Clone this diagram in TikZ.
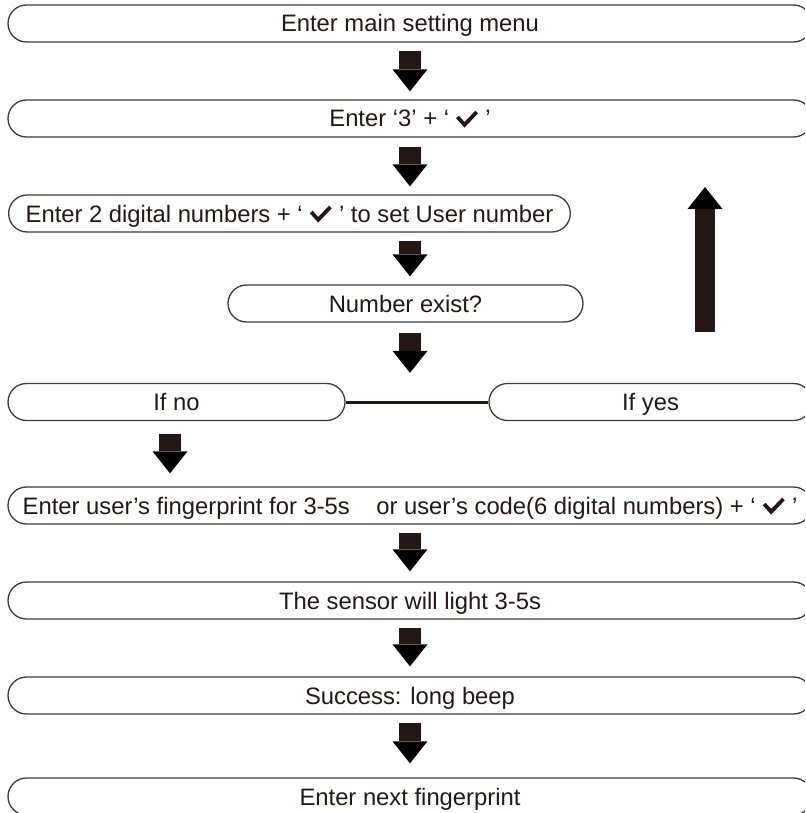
\documentclass[tikz,border=0pt]{standalone}
\usepackage{fontspec}
\setmainfont{Liberation Sans}
\usetikzlibrary{arrows.meta,calc}
\definecolor{ink}{HTML}{231815}
\definecolor{edge}{HTML}{3E3A39}
% heavy check mark used inside the quotes, drawn as a small stroked path
\newcommand{\tick}{%
  \begin{pgfpicture}%
    \pgfsetcornersarced{\pgfpointorigin}%
    \pgfpathrectangle{\pgfpointorigin}{\pgfpoint{23pt}{17pt}}%
    \pgfusepath{use as bounding box}%
    \pgfsetlinewidth{3.8pt}%
    \pgfsetstrokecolor{ink}%
    \pgfsetmiterjoin
    \pgfsetbuttcap
    \pgfpathmoveto{\pgfpoint{1.8pt}{10pt}}%
    \pgfpathlineto{\pgfpoint{8.8pt}{2.2pt}}%
    \pgfpathlineto{\pgfpoint{21pt}{15pt}}%
    \pgfusepath{stroke}%
  \end{pgfpicture}}

\begin{document}
\begin{tikzpicture}[x=1pt,y=-1pt,
  font=\fontsize{23.8}{28}\selectfont,
  stage/.style={draw=edge, line width=1.3pt, rounded corners=18.5pt,
    minimum height=37pt, inner sep=0pt, text=ink,
    text height=17pt, text depth=0pt},
  flow/.style={draw=ink, line width=22pt,
    -{Triangle[length=22pt,width=35pt,line width=0pt]}},
  link/.style={draw=ink, line width=3pt},
]
\clip (0,0) rectangle (805,813);
\coordinate (axis) at (410,0);

% process stages
\node[stage, minimum width=804pt] (b1) at (410,23.5) {Enter main setting menu};
\node[stage, minimum width=804pt] (b2) at (410,118.5) {Enter ‘3’ + ‘ \tick\ ’};
\node[stage, anchor=west, inner xsep=17pt] (b3) at (8,213.5)
  {Enter 2 digital numbers + ‘ \tick\ ’ to set User number};
\node[stage, minimum width=355pt] (b4) at (405.5,303.5) {Number exist?};
\node[stage, minimum width=337pt] (b5) at (176.5,402) {If no};
\node[stage, minimum width=323pt] (b6) at (650.5,402) {If yes};
\node[stage, minimum width=804pt] (b7) at (410,505.5)
  {Enter user’s fingerprint for 3-5s\ \ \ \ or user’s code(6 digital numbers) + ‘ \tick\ ’};
\node[stage, minimum width=804pt] (b8) at (410,600.5) {The sensor will light 3-5s};
\node[stage, minimum width=804pt] (b9) at (410,695.5) {Success: long beep};
\node[stage, minimum width=804pt] (b10) at (410,796.5) {Enter next fingerprint};

% arrows between stages
\draw[flow] ([yshift=-8pt]b1.south -| axis) -- ([yshift=8pt]b2.north -| axis);
\draw[flow] ([yshift=-9pt]b2.south -| axis) -- ([yshift=8pt]b3.north -| axis);
\draw[flow] ([yshift=-8pt]b3.south -| axis) -- ([yshift=8pt]b4.north -| axis);
\draw[flow] ([yshift=-10pt]b4.south -| axis) -- ([yshift=10pt]b5.north -| axis);
\draw[flow] ([xshift=-6.5pt,yshift=-13pt]b5.south) -- ([xshift=-6.5pt,yshift=13pt]b5.south |- b7.north);
\draw[flow] ([yshift=-8pt]b7.south -| axis) -- ([yshift=10pt]b8.north -| axis);
\draw[flow] ([yshift=-8pt]b8.south -| axis) -- ([yshift=10pt]b9.north -| axis);
\draw[flow] ([yshift=-8pt]b9.south -| axis) -- ([yshift=14pt]b10.north -| axis);

% branch link
\draw[link] (b5.east) -- (b6.west);

% return arrow
\coordinate (upfoot) at (705,332);
\coordinate (uphead) at (705,187);
\draw[flow, line width=20pt] (upfoot) -- (uphead);
\end{tikzpicture}
\end{document}
